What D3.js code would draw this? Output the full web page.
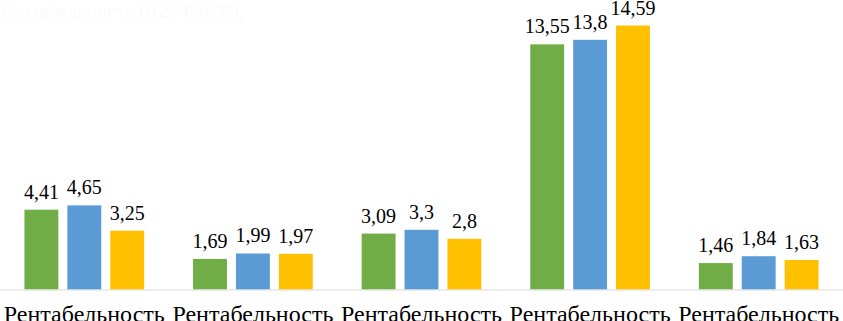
<!DOCTYPE html>
<html lang="ru">
<head>
  <meta charset="UTF-8">
  <title>Рентабельность</title>
  <style>
    html, body { margin: 0; padding: 0; background: #fff; }
    svg { display: block; }
    .serif { font-family: 'Liberation Serif', serif; }
    #preload { position: absolute; left: 0; top: 0; opacity: 0.01; font-family: 'Liberation Serif'; font-size: 20px; pointer-events: none; }
  </style>
</head>
<body>
  <div id="preload">Рентабельность 0123456789,</div>
  <div id="chart"></div>
  <script src="https://d3js.org/d3.v7.min.js"></script>
  <script>
    const SVGWIDTH = 843;
    const SVGHEIGHT = 321;
    const BASELINE = 289.5;
    const FONT = 'Liberation Serif';

    // data
    const categories = ['Рентабельность', 'Рентабельность', 'Рентабельность', 'Рентабельность', 'Рентабельность'];
    const seriesNames = ['s1', 's2', 's3'];
    const seriesColors = ['#70AD47', '#5B9BD5', '#FFC000'];
    const series1 = [4.41, 1.69, 3.09, 13.55, 1.46];
    const series2 = [4.65, 1.99, 3.3, 13.8, 1.84];
    const series3 = [3.25, 1.97, 2.8, 14.59, 1.63];
    const yMax = 16;

    const values = [series1, series2, series3];
    const fmt = v => String(v).replace('.', ',');

    const svg = d3.select('#chart')
      .append('svg')
      .attr('width', SVGWIDTH)
      .attr('height', SVGHEIGHT)
      .attr('class', 'serif');

    const x0 = d3.scaleBand()
      .domain(d3.range(categories.length))
      .range([0, SVGWIDTH]);

    // inner scale for the three bars in a group
    const x1 = d3.scaleBand()
      .domain(seriesNames)
      .range([0, x0.bandwidth()])
      .paddingInner(0.21)
      .paddingOuter(0.57);

    const y = d3.scaleLinear()
      .domain([0, yMax])
      .range([BASELINE, 0]);

    const rows = categories.map((c, i) => ({
      i: i,
      items: seriesNames.map((s, j) => ({ s: s, j: j, v: values[j][i] }))
    }));

    const groups = svg.selectAll('g.group')
      .data(rows)
      .enter()
      .append('g')
      .attr('class', 'group')
      .attr('transform', d => `translate(${x0(d.i)},0)`);

    groups.selectAll('rect')
      .data(d => d.items)
      .enter()
      .append('rect')
      .attr('x', d => x1(d.s))
      .attr('width', x1.bandwidth())
      .attr('y', d => y(d.v))
      .attr('height', d => BASELINE - y(d.v))
      .attr('fill', d => seriesColors[d.j]);

    groups.selectAll('text.val')
      .data(d => d.items)
      .enter()
      .append('text')
      .attr('class', 'val serif')
      .attr('x', d => x1(d.s) + x1.bandwidth() / 2)
      .attr('y', d => y(d.v) - 11)
      .attr('text-anchor', 'middle')
      .attr('font-family', FONT)
      .attr('font-size', 20)
      .attr('fill', '#000')
      .text(d => fmt(d.v));

    // axis line + category labels
    const xAxis = d3.axisBottom(x0).tickSize(0).tickFormat(i => categories[i]);
    const axisG = svg.append('g')
      .attr('transform', `translate(0,${BASELINE})`)
      .call(xAxis)
      .attr('font-family', FONT)
      .attr('font-size', 24);
    axisG.select('.domain').attr('stroke', '#D9D9D9').attr('stroke-width', 1);
    axisG.selectAll('text')
      .attr('class', 'serif')
      .attr('font-family', FONT)
      .attr('font-size', 24)
      .attr('fill', '#000')
      .attr('dy', null)
      .attr('y', 32);

    // re-apply the font once it is loaded
    if (document.fonts && document.fonts.load) {
      document.fonts.load(`20px "${FONT}"`, 'Рентабельность 0123456789').then(() => {
        svg.selectAll('text').style('font-family', `"${FONT}", serif`);
      });
    }
  </script>
</body>
</html>
